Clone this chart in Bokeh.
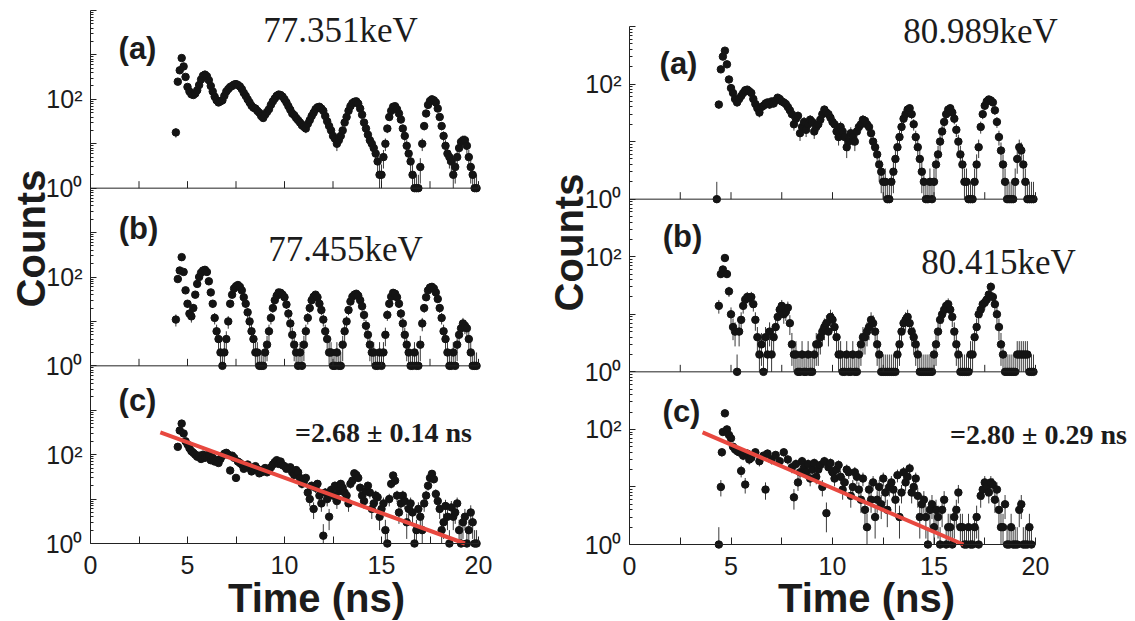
import math
from bokeh.plotting import figure
from bokeh.models import Range1d, LogScale, FixedTicker, Label, ColumnDataSource
from bokeh.layouts import row
from bokeh.embed import file_html
from bokeh.resources import INLINE

# ---------------- data: (time ns, counts) ----------------
left_a = [(4.4,18),(4.5,250),(4.6,450),(4.7,850),(4.8,550),(4.9,320),(5.0,190),(5.1,150),(5.2,130),(5.3,125),
          (5.4,135),(5.5,160),(5.6,210),(5.7,280),(5.8,340),(5.9,360),(6.0,330),(6.1,270),(6.2,200),(6.3,150),
          (6.4,115),(6.5,95),(6.6,85),(6.7,90),(6.8,95),(6.9,120),(7.0,150),(7.1,170),(7.2,190),(7.3,200),
          (7.4,215),(7.5,220),(7.6,210),(7.7,195),(7.8,170),(7.9,140),(8.0,120),(8.1,100),(8.2,85),(8.3,72),
          (8.4,65),(8.5,62),(8.6,55),(8.7,50),(8.8,42),(8.9,38),(9.0,45),(9.1,52),(9.2,60),(9.3,75),
          (9.4,90),(9.5,105),(9.6,120),(9.7,128),(9.8,125),(9.9,115),(10.0,100),(10.1,85),(10.2,70),(10.3,58),
          (10.4,48),(10.5,44),(10.6,38),(10.7,34),(10.8,30),(10.9,26),(11.0,24),(11.1,22),(11.2,28),(11.3,34),
          (11.4,42),(11.5,50),(11.6,60),(11.7,66),(11.8,68),(11.9,62),(12.0,55),(12.1,42),(12.2,32),(12.3,25),
          (12.4,20),(12.5,15),(12.6,13),(12.7,10),(12.8,12),(12.9,15),(13.0,20),(13.1,30),(13.2,40),(13.3,55),
          (13.4,70),(13.5,82),(13.6,88),(13.7,90),(13.8,80),(13.9,62),(14.0,45),(14.1,30),(14.2,22),(14.3,16),
          (14.4,12),(14.5,10),(14.6,8),(14.7,6),(14.8,4),(14.9,2),(15.0,2),(15.1,5),(15.2,10),(15.3,22),
          (15.4,40),(15.5,55),(15.6,68),(15.7,70),(15.8,60),(15.9,48),(16.0,35),(16.1,22),(16.2,15),(16.3,9),
          (16.4,6),(16.5,4),(16.6,2),(16.7,1),(16.8,1),(16.9,1),(17.0,3),(17.1,10),(17.2,25),(17.3,48),
          (17.4,75),(17.5,92),(17.6,100),(17.7,95),(17.8,85),(17.9,62),(18.0,40),(18.1,25),(18.2,15),(18.3,9),
          (18.4,6),(18.5,5),(18.6,4),(18.7,2),(18.8,3),(18.9,5),(19.0,8),(19.1,11),(19.2,12),(19.3,12),
          (19.4,9),(19.5,5),(19.6,3),(19.7,2),(19.8,1),(19.9,1)]

left_b = [(4.4,11),(4.5,90),(4.6,140),(4.7,280),(4.8,130),(4.9,50),(5.0,25),(5.1,15),(5.2,13),(5.3,20),
          (5.4,40),(5.5,70),(5.6,100),(5.7,125),(5.8,140),(5.9,145),(6.0,130),(6.1,80),(6.2,45),(6.3,25),
          (6.4,12),(6.5,6),(6.6,4),(6.7,2),(6.8,1),(6.9,2),(7.0,4),(7.1,10),(7.2,25),(7.3,40),
          (7.4,55),(7.5,62),(7.6,66),(7.7,60),(7.8,50),(7.9,35),(8.0,25),(8.1,16),(8.2,10),(8.3,6),
          (8.4,4),(8.5,2),(8.6,2),(8.7,1),(8.8,1),(8.9,1),(9.0,2),(9.1,3),(9.2,6),(9.3,12),
          (9.4,20),(9.5,30),(9.6,38),(9.7,45),(9.8,44),(9.9,40),(10.0,35),(10.1,24),(10.2,15),(10.3,9),
          (10.4,5),(10.5,3),(10.6,2),(10.7,1),(10.8,2),(10.9,1),(11.0,3),(11.1,6),(11.2,12),(11.3,20),
          (11.4,30),(11.5,36),(11.6,40),(11.7,35),(11.8,25),(11.9,18),(12.0,11),(12.1,6),(12.2,4),(12.3,2),
          (12.4,2),(12.5,1),(12.6,1),(12.7,2),(12.8,1),(12.9,1),(13.0,3),(13.1,6),(13.2,10),(13.3,18),
          (13.4,28),(13.5,36),(13.6,40),(13.7,42),(13.8,38),(13.9,30),(14.0,22),(14.1,14),(14.2,8),(14.3,5),
          (14.4,3),(14.5,2),(14.6,2),(14.7,1),(14.8,1),(14.9,2),(15.0,1),(15.1,2),(15.2,5),(15.3,14),
          (15.4,25),(15.5,36),(15.6,44),(15.7,42),(15.8,35),(15.9,25),(16.0,15),(16.1,9),(16.2,5),(16.3,3),
          (16.4,2),(16.5,1),(16.6,1),(16.7,2),(16.8,1),(16.9,1),(17.0,3),(17.1,9),(17.2,20),(17.3,35),
          (17.4,50),(17.5,58),(17.6,60),(17.7,55),(17.8,45),(17.9,32),(18.0,20),(18.1,12),(18.2,6),(18.3,4),
          (18.4,2),(18.5,1),(18.6,1),(18.7,2),(18.8,1),(18.9,3),(19.0,5),(19.1,7),(19.2,9),(19.3,8),
          (19.4,7),(19.5,4),(19.6,2),(19.7,1),(19.8,1),(19.9,1)]

left_c = [(4.5,150),(4.6,350),(4.7,500),(4.8,300),(4.9,200),(5.0,170),(5.1,140),(5.2,120),(5.3,110),(5.4,100),
          (5.5,90),(5.6,95),(5.7,80),(5.8,100),(5.9,85),(6.0,90),(6.1,100),(6.2,75),(6.3,85),(6.4,70),
          (6.5,75),(6.6,65),(6.7,80),(6.8,95),(6.9,105),(7.0,110),(7.1,100),(7.2,44),(7.3,95),(7.4,85),
          (7.5,30),(7.6,70),(7.7,65),(7.8,60),(7.9,48),(8.0,55),(8.1,60),(8.2,50),(8.3,42),(8.4,45),
          (8.5,55),(8.6,48),(8.7,38),(8.8,40),(8.9,46),(9.0,50),(9.1,40),(9.2,45),(9.3,52),(9.4,60),
          (9.5,68),(9.6,75),(9.7,62),(9.8,70),(9.9,58),(10.0,55),(10.1,48),(10.2,50),(10.3,52),(10.4,40),
          (10.5,35),(10.6,45),(10.7,40),(10.8,30),(10.9,22),(11.0,25),(11.1,30),(11.2,14),(11.3,10),(11.4,20),
          (11.5,6),(11.6,18),(11.7,22),(11.8,12),(11.9,8),(12.0,1.5),(12.1,14),(12.2,10),(12.3,4),(12.4,16),
          (12.5,12),(12.6,20),(12.7,9),(12.8,15),(12.9,22),(13.0,18),(13.1,14),(13.2,12),(13.3,8),(13.4,22),
          (13.5,26),(13.6,38),(13.7,35),(13.8,30),(13.9,18),(14.0,12),(14.1,9),(14.2,15),(14.3,20),(14.4,14),
          (14.5,6),(14.6,8),(14.7,12),(14.8,11),(14.9,4),(15.0,6),(15.1,8),(15.2,2),(15.3,1),(15.4,10),
          (15.5,22),(15.6,34),(15.7,26),(15.8,12),(15.9,5),(16.0,8),(16.1,12),(16.2,9),(16.3,3),(16.4,6),
          (16.5,8),(16.6,5),(16.7,1),(16.8,2),(16.9,6),(17.0,4),(17.1,2),(17.2,8),(17.3,12),(17.4,20),
          (17.5,30),(17.6,37),(17.7,28),(17.8,13),(17.9,9),(18.0,6),(18.1,2),(18.2,3),(18.3,7),(18.4,4),
          (18.5,1),(18.6,6.5),(18.7,4),(18.8,5),(18.9,8),(19.0,2),(19.1,1),(19.2,3),(19.3,4),(19.4,1),
          (19.5,2),(19.6,5),(19.7,3),(19.8,1),(19.9,1)]

right_a = [(4.3,1),(4.4,44),(4.5,180),(4.6,300),(4.7,380),(4.8,220),(4.9,120),(5.0,85),(5.1,70),(5.2,55),
           (5.3,48),(5.4,55),(5.5,62),(5.6,70),(5.7,78),(5.8,80),(5.9,75),(6.0,70),(6.1,55),(6.2,45),
           (6.3,38),(6.4,32),(6.5,40),(6.6,42),(6.7,46),(6.8,48),(6.9,44),(7.0,50),(7.1,46),(7.2,52),
           (7.3,58),(7.4,55),(7.5,50),(7.6,48),(7.7,45),(7.8,40),(7.9,35),(8.0,30),(8.1,20),(8.2,25),
           (8.3,28),(8.4,14),(8.5,18),(8.6,22),(8.7,16),(8.8,20),(8.9,24),(9.0,22),(9.1,15),(9.2,18),
           (9.3,20),(9.4,24),(9.5,30),(9.6,36),(9.7,32),(9.8,30),(9.9,26),(10.0,22),(10.1,20),(10.2,15),
           (10.3,12),(10.4,18),(10.5,15),(10.6,12),(10.7,8),(10.8,10),(10.9,14),(11.0,12),(11.1,10),(11.2,15),
           (11.3,18),(11.4,20),(11.5,24),(11.6,23),(11.7,20),(11.8,18),(11.9,14),(12.0,10),(12.1,8),(12.2,6),
           (12.3,4),(12.4,3),(12.5,2),(12.6,2),(12.7,1),(12.8,1),(12.9,2),(13.0,3),(13.1,5),(13.2,8),
           (13.3,12),(13.4,18),(13.5,25),(13.6,30),(13.7,36),(13.8,38),(13.9,30),(14.0,20),(14.1,12),(14.2,8),
           (14.3,5),(14.4,3),(14.5,2),(14.6,1),(14.7,1),(14.8,2),(14.9,1),(15.0,2),(15.1,4),(15.2,6),
           (15.3,10),(15.4,15),(15.5,22),(15.6,30),(15.7,36),(15.8,38),(15.9,32),(16.0,25),(16.1,16),(16.2,10),
           (16.3,6),(16.4,4),(16.5,2),(16.6,2),(16.7,1),(16.8,1),(16.9,1),(17.0,2),(17.1,4),(17.2,8),
           (17.3,18),(17.4,30),(17.5,42),(17.6,50),(17.7,54),(17.8,52),(17.9,48),(18.0,35),(18.1,22),(18.2,12),
           (18.3,7),(18.4,4),(18.5,2),(18.6,1),(18.7,1),(18.8,1),(18.9,1),(19.0,2),(19.1,5),(19.2,8),
           (19.3,7),(19.4,4),(19.5,2),(19.6,1),(19.7,1),(19.8,1),(19.9,1)]

right_b = [(4.4,14),(4.5,50),(4.6,60),(4.7,95),(4.8,50),(4.9,25),(5.0,10),(5.1,6),(5.2,5),(5.3,1),
           (5.4,5),(5.5,8),(5.6,14),(5.7,18),(5.8,20),(5.9,19),(6.0,20),(6.1,15),(6.2,8),(6.3,4),
           (6.4,2),(6.5,3),(6.6,1),(6.7,4),(6.8,2),(6.9,5),(7.0,2),(7.1,4),(7.2,6),(7.3,9),
           (7.4,12),(7.5,14),(7.6,10),(7.7,11),(7.8,13),(7.9,7),(8.0,3),(8.1,2),(8.2,2),(8.3,1),
           (8.4,1),(8.5,2),(8.6,1),(8.7,1),(8.8,2),(8.9,1),(9.0,1),(9.1,2),(9.2,3),(9.3,3),
           (9.4,4),(9.5,5),(9.6,6),(9.7,7),(9.8,5),(9.9,9),(10.0,8),(10.1,6),(10.2,4),(10.3,2),
           (10.4,2),(10.5,1),(10.6,1),(10.7,2),(10.8,1),(10.9,1),(11.0,2),(11.1,1),(11.2,1),(11.3,2),
           (11.4,3),(11.5,4),(11.6,4),(11.7,5),(11.8,6),(11.9,8),(12.0,7),(12.1,5),(12.2,3),(12.3,2),
           (12.4,1),(12.5,1),(12.6,1),(12.7,1),(12.8,1),(12.9,1),(13.0,1),(13.1,1),(13.2,2),(13.3,3),
           (13.4,5),(13.5,7),(13.6,8),(13.7,9),(13.8,7),(13.9,5),(14.0,4),(14.1,3),(14.2,2),(14.3,1),
           (14.4,1),(14.5,1),(14.6,1),(14.7,1),(14.8,1),(14.9,1),(15.0,2),(15.1,3),(15.2,5),(15.3,8),
           (15.4,10),(15.5,12),(15.6,14),(15.7,15),(15.8,12),(15.9,9),(16.0,5),(16.1,3),(16.2,2),(16.3,1),
           (16.4,1),(16.5,1),(16.6,1),(16.7,1),(16.8,2),(16.9,2),(17.0,4),(17.1,6),(17.2,10),(17.3,12),
           (17.4,15),(17.5,16),(17.6,18),(17.7,22),(17.8,30),(17.9,20),(18.0,15),(18.1,10),(18.2,6),(18.3,3),
           (18.4,2),(18.5,1),(18.6,1),(18.7,1),(18.8,1),(18.9,1),(19.0,1),(19.1,2),(19.2,2),(19.3,2),
           (19.4,2),(19.5,2),(19.6,2),(19.7,1),(19.8,1),(19.9,1)]

right_c = [(4.4,1),(4.5,10),(4.55,40),(4.6,90),(4.7,190),(4.8,100),(4.9,80),(5.0,70),(5.1,50),(5.2,45),
           (5.3,42),(5.4,40),(5.5,19),(5.6,35),(5.7,11),(5.8,38),(5.9,30),(6.0,32),(6.2,40),(6.4,28),
           (6.6,35),(6.7,9),(6.8,38),(7.0,30),(7.2,36),(7.4,28),(7.6,40),(7.8,30),(8.0,22),(8.1,6.6),
           (8.2,25),(8.3,12),(8.4,18),(8.5,28),(8.6,22),(8.7,18),(8.8,25),(8.9,14),(9.0,20),(9.1,26),
           (9.2,15),(9.3,20),(9.4,24),(9.5,10),(9.6,28),(9.7,3.5),(9.8,22),(9.9,26),(10.0,18),(10.1,14),
           (10.2,20),(10.3,24),(10.4,15),(10.5,9),(10.6,12),(10.7,20),(10.8,18),(10.9,7),(11.0,10),(11.1,18),
           (11.2,15),(11.3,9),(11.4,6),(11.5,14),(11.6,4),(11.7,2),(11.8,9),(11.9,6),(12.0,12),(12.1,3),
           (12.2,6),(12.3,10),(12.4,5),(12.5,14),(12.6,8),(12.7,4),(12.8,10),(12.9,12),(13.0,9),(13.1,6),
           (13.2,16),(13.3,3),(13.4,8),(13.5,18),(13.6,12),(13.7,15),(13.8,21),(13.9,8),(14.0,10),(14.1,14),
           (14.2,7),(14.3,3),(14.4,5),(14.5,6),(14.6,3),(14.7,1),(14.8,4),(14.9,5),(15.0,2),(15.1,4),
           (15.2,3),(15.3,1),(15.4,4),(15.5,6),(15.6,1),(15.7,2),(15.8,2),(15.9,1),(16.0,3),(16.1,4),
           (16.2,8),(16.3,2),(16.4,2),(16.5,1),(16.6,1),(16.7,2),(16.8,1),(16.9,1),(17.0,2),(17.1,3),
           (17.2,1),(17.3,7),(17.4,9),(17.5,12),(17.6,10),(17.7,8),(17.8,12),(17.9,11),(18.0,6),(18.1,9),
           (18.2,4),(18.3,2),(18.4,2),(18.5,5),(18.6,1),(18.7,1),(18.8,2),(18.9,1),(19.0,1),(19.1,1),
           (19.2,4),(19.3,5),(19.4,1),(19.5,1),(19.6,1),(19.7,2),(19.8,1)]

# exponential fits, drawn between two end points (t, counts)
fit_left_t = [3.6, 19.3]
fit_left_n = [316, 1]
fit_right_t = [3.6, 16.45]
fit_right_n = [89, 1]

x_ticks = [0, 2.5, 5, 7.5, 10, 12.5, 15, 17.5, 20]
x_tick_labels = {0: "0", 2.5: "", 5: "5", 7.5: "", 10: "10", 12.5: "", 15: "15", 17.5: "", 20: "20"}

panel_tags = ["(a)", "(b)", "(c)"]
left_energies = ["77.351keV", "77.455keV"]
right_energies = ["80.989keV", "80.415keV"]
left_tau = "=2.68 \u00b1 0.14 ns"
right_tau = "=2.80 \u00b1 0.29 ns"

SANS = "Liberation Sans"
SERIF = "Liberation Serif"
INK = "#1c1c1c"
H = 620


def make_column(panels, ndec, fit_t, fit_n, width, page_x, frame, texts):
    """frame = (left, right, top, bottom) of the stacked panels in window pixels."""
    fx0, fx1, fyt, fyb = frame
    total = 3 * ndec
    pxns = (fx1 - fx0) / 20.0
    pxdec = (fyb - fyt) / total
    sx0, sx1 = page_x, page_x + width
    sy0, sy1 = 0, H

    def xy(sx, sy):
        return (sx - fx0) / pxns, 10 ** ((fyb - sy) / pxdec)

    xr = Range1d((sx0 - fx0) / pxns, (sx1 - fx0) / pxns)
    ylo, yhi = 10 ** ((fyb - sy1) / pxdec), 10 ** ((fyb - sy0) / pxdec)
    p = figure(width=width, height=H, y_axis_type="log", x_range=xr, y_range=Range1d(ylo, yhi),
               output_backend="svg", toolbar_location=None,
               min_border_left=0, min_border_right=0, min_border_top=0, min_border_bottom=0)
    p.outline_line_color = None
    p.xgrid.visible = False
    p.ygrid.visible = False
    p.extra_y_ranges = {"a": Range1d(ylo * 10 ** (-2 * ndec), yhi * 10 ** (-2 * ndec)),
                        "b": Range1d(ylo * 10 ** (-ndec), yhi * 10 ** (-ndec))}
    p.extra_y_scales = {"a": LogScale(), "b": LogScale()}

    names = ["a", "b", "default"]
    for data, nm in zip(panels, names):
        t = [d[0] for d in data]
        n = [d[1] for d in data]
        err = [math.sqrt(v) for v in n]
        hi = [v + e for v, e in zip(n, err)]
        lo = [max(v - e, 1.0) for v, e in zip(n, err)]
        src = ColumnDataSource(dict(t=t, n=n, hi=hi, lo=lo))
        kw = {} if nm == "default" else {"y_range_name": nm}
        p.segment(x0="t", y0="lo", x1="t", y1="hi", source=src, line_color="#3a3a3a", line_width=1, **kw)
        p.scatter("t", "n", source=src, size=7.5, color="#141414", **kw)

    p.line(fit_t, fit_n, line_color="#e8483f", line_width=4)

    # panel boundaries with inward ticks
    tick_len = 10 ** (7.0 / pxdec)
    for k in (1, 2):
        b = 10 ** (k * ndec)
        p.segment(x0=[x_ticks[0]], y0=[b], x1=[x_ticks[-1]], y1=[b], line_color="#222222", line_width=1)
        p.segment(x0=x_ticks[1:], y0=[b] * (len(x_ticks) - 1), x1=x_ticks[1:],
                  y1=[b * tick_len] * (len(x_ticks) - 1), line_color="#222222", line_width=1)

    # y axis (one axis carrying the three stacked panels)
    majors = [10 ** k for k in range(total + 1)]
    minors = [m * 10 ** k for k in range(total) for m in range(2, 10)]
    overrides = {}
    for k in range(total + 1):
        loc = k % ndec
        if k == total:
            lab = ""
        elif loc == 0:
            lab = "10\u2070"
        elif loc == 2:
            lab = "10\u00b2"
        else:
            lab = ""
        overrides[float(10 ** k)] = lab
    ya = p.yaxis[0]
    ya.fixed_location = 0
    ya.bounds = (1, 10 ** total)
    ya.ticker = FixedTicker(ticks=majors, minor_ticks=minors)
    ya.major_label_overrides = overrides
    ya.major_tick_in = 6
    ya.major_tick_out = 0
    ya.minor_tick_in = 3
    ya.minor_tick_out = 0
    ya.axis_line_color = "#222222"
    ya.major_tick_line_color = "#222222"
    ya.minor_tick_line_color = "#222222"
    ya.major_label_text_font = SANS
    ya.major_label_text_font_size = "25px"
    ya.major_label_text_color = INK
    ya.major_label_standoff = 8

    xa = p.xaxis[0]
    xa.fixed_location = 1
    xa.bounds = (0, 20)
    xa.ticker = FixedTicker(ticks=x_ticks, minor_ticks=[])
    xa.major_label_overrides = {float(k): v for k, v in x_tick_labels.items()}
    xa.major_tick_in = 7
    xa.major_tick_out = 0
    xa.axis_line_color = "#222222"
    xa.major_tick_line_color = "#222222"
    xa.major_label_text_font = SANS
    xa.major_label_text_font_size = "25px"
    xa.major_label_text_color = INK
    xa.major_label_standoff = 12

    for (txt, sx, sy, font, size, style, angle) in texts:
        x, y = xy(sx, sy)
        p.add_layout(Label(x=x, y=y, text=txt, text_font=font, text_font_size=size,
                           text_font_style=style, text_align="center", text_baseline="middle",
                           text_color=INK, angle=angle))
    return p


left_texts = [
    (panel_tags[0], 137, 48, SANS, "31px", "bold", 0),
    (panel_tags[1], 138, 228, SANS, "31px", "bold", 0),
    (panel_tags[2], 137, 400, SANS, "31px", "bold", 0),
    (left_energies[0], 340, 30, SERIF, "35px", "normal", 0),
    (left_energies[1], 345, 249, SERIF, "35px", "normal", 0),
    (left_tau, 383, 432, SERIF, "28px", "bold", 0),
    ("Time (ns)", 316, 597, SANS, "40px", "bold", 0),
    ("Counts", 30, 238, SANS, "40px", "bold", math.pi / 2),
]
right_texts = [
    (panel_tags[0], 678, 63, SANS, "31px", "bold", 0),
    (panel_tags[1], 682, 236, SANS, "31px", "bold", 0),
    (panel_tags[2], 681, 411, SANS, "31px", "bold", 0),
    (right_energies[0], 980, 31, SERIF, "35px", "normal", 0),
    (right_energies[1], 998, 262, SERIF, "35px", "normal", 0),
    (right_tau, 1038, 434, SERIF, "28px", "bold", 0),
    ("Time (ns)", 866, 597, SANS, "40px", "bold", 0),
    ("Counts", 568, 242, SANS, "40px", "bold", math.pi / 2),
]

pl = make_column([left_a, left_b, left_c], 4, fit_left_t, fit_left_n,
                 width=536, page_x=0, frame=(90, 478, 10, 543), texts=left_texts)
pr = make_column([right_a, right_b, right_c], 3, fit_right_t, fit_right_n,
                 width=598, page_x=536, frame=(629, 1035, 26, 544), texts=right_texts)

layout = row(pl, pr)
open("out.html", "w").write(file_html(layout, INLINE))
